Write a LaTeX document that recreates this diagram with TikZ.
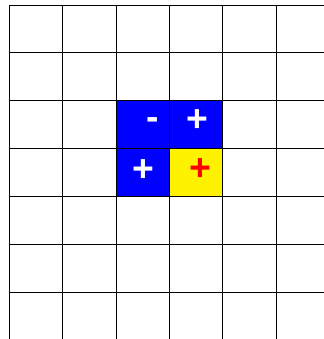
\documentclass[tikz,border=0pt]{standalone}
\usepackage{fontspec}
\setmainfont{Liberation Sans}
\begin{document}
\begin{tikzpicture}[x=0.75pt,y=-0.75pt,
  gridline/.style={black,line width=0.75pt},
  sign/.style={inner sep=0pt,font=\bfseries\fontsize{28}{28}\selectfont}]
\useasboundingbox (0,0) rectangle (324,339);
\fill[white] (0,0) rectangle (324,339);
\fill[blue] (116.1,100.8) rectangle (222.7,196.5);
\fill[yellow] (169.4,148.6) rectangle (222.7,196.5);
\foreach \k in {0,...,5} {
  \draw[gridline] ({9.5+53.3*\k},5) -- ({9.5+53.3*\k},339);
}
\foreach \k in {0,...,6} {
  \draw[gridline] (9.5,{5+47.95*\k}) -- (324,{5+47.95*\k});
}
\node[sign,white] (m1) at (153,124) {-};
\node[sign,white] (p1) at (197,121) {+};
\node[sign,white] (p2) at (143,171) {+};
\node[sign,red] (p3) at (200,170) {+};
\end{tikzpicture}
\end{document}
